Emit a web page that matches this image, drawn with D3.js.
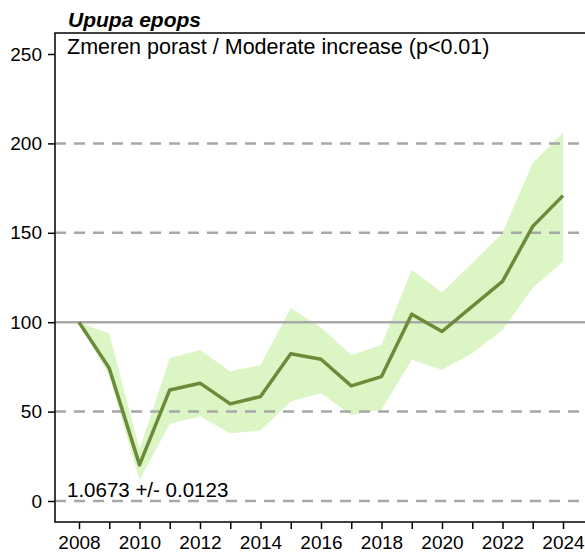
<!DOCTYPE html>
<html>
<head>
<meta charset="utf-8">
<script src="https://cdn.jsdelivr.net/npm/d3@7"></script>
<style>
  body { margin: 0; background: #fff; }
  text { font-family: "Liberation Sans", Arial, sans-serif; }
</style>
</head>
<body>
<div id="chart"></div>
<script>
var years = [2008, 2009, 2010, 2011, 2012, 2013, 2014, 2015, 2016, 2017, 2018, 2019, 2020, 2021, 2022, 2023, 2024];
var index = [100, 74.3, 20.2, 62.1, 65.9, 54.3, 58.4, 82.3, 79.3, 64.4, 69.6, 104.5, 94.8, 108.8, 122.8, 153.6, 170.8];
var upper = [100, 93.5, 29, 79.9, 84.5, 72.4, 76.1, 107.9, 97, 81.7, 87.3, 129.3, 116.6, 133.1, 149.9, 189, 205.9];
var lower = [100, 70, 11.8, 43.1, 47.2, 37.9, 39.4, 55.6, 60.3, 48.1, 51, 79, 73.4, 82.7, 95.7, 119.1, 134];
var yTicks = [0, 50, 100, 150, 200, 250];
var dashedLines = [0, 50, 150, 200];
var xLabels = [2008, 2010, 2012, 2014, 2016, 2018, 2020, 2022, 2024];

var width = 585, height = 553;
var plotLeft = 55, plotTop = 33, plotBottom = 522;

var svg = d3.select("#chart").append("svg")
    .attr("width", width).attr("height", height);

var x = d3.scaleLinear().domain([2008, 2024]).range([79, 563]);
var y = d3.scaleLinear().domain([0, 250]).range([501, 54]);

var rows = years.map(function(d, i) {
    return {year: d, value: index[i], hi: upper[i], lo: lower[i]};
});

// confidence band
var area = d3.area()
    .x(function(d) { return x(d.year); })
    .y0(function(d) { return y(d.lo); })
    .y1(function(d) { return y(d.hi); });
svg.append("path").datum(rows)
    .attr("d", area)
    .attr("fill", "#dcf5c4");

// grid lines
svg.selectAll(".grid").data(dashedLines).enter().append("line")
    .attr("x1", plotLeft).attr("x2", width)
    .attr("y1", function(d) { return y(d); })
    .attr("y2", function(d) { return y(d); })
    .attr("stroke", "#a8a8a8").attr("stroke-width", 2.5)
    .attr("stroke-dasharray", "11,8");
svg.append("line")
    .attr("x1", plotLeft).attr("x2", width)
    .attr("y1", y(100)).attr("y2", y(100))
    .attr("stroke", "#a8a8a8").attr("stroke-width", 2.5);

// index line
var line = d3.line()
    .x(function(d) { return x(d.year); })
    .y(function(d) { return y(d.value); });
svg.append("path").datum(rows)
    .attr("d", line)
    .attr("fill", "none")
    .attr("stroke", "#6a8c3a")
    .attr("stroke-width", 3.5)
    .attr("stroke-linejoin", "round");

// frame
svg.append("path")
    .attr("d", "M" + width + "," + plotTop + "H" + plotLeft + "V" + plotBottom + "H" + width)
    .attr("fill", "none").attr("stroke", "#000").attr("stroke-width", 1.5);

// axes
var yAxis = svg.append("g")
    .attr("transform", "translate(" + plotLeft + ",0)")
    .call(d3.axisLeft(y).tickValues(yTicks).tickSize(7).tickPadding(6).tickSizeOuter(0));
yAxis.select(".domain").remove();

var xAxis = svg.append("g")
    .attr("transform", "translate(0," + plotBottom + ")")
    .call(d3.axisBottom(x).tickValues(years).tickSize(7).tickPadding(7).tickSizeOuter(0)
        .tickFormat(function(d) { return xLabels.indexOf(d) >= 0 ? d : ""; }));
xAxis.select(".domain").remove();

svg.selectAll(".tick line").attr("stroke", "#000").attr("stroke-width", 1.5);
svg.selectAll(".tick text")
    .style("font-family", "'Liberation Sans', Arial, sans-serif")
    .attr("font-size", 19).attr("fill", "#000");

// labels
svg.append("text").attr("x", 68).attr("y", 27)
    .attr("font-size", 21).attr("font-weight", "bold").attr("font-style", "italic")
    .text("Upupa epops");
svg.append("text").attr("x", 67).attr("y", 54)
    .attr("font-size", 21.5)
    .text("Zmeren porast / Moderate increase (p<0.01)");
svg.append("text").attr("x", 67).attr("y", 497)
    .attr("font-size", 20.5)
    .text("1.0673 +/- 0.0123");
</script>
</body>
</html>
